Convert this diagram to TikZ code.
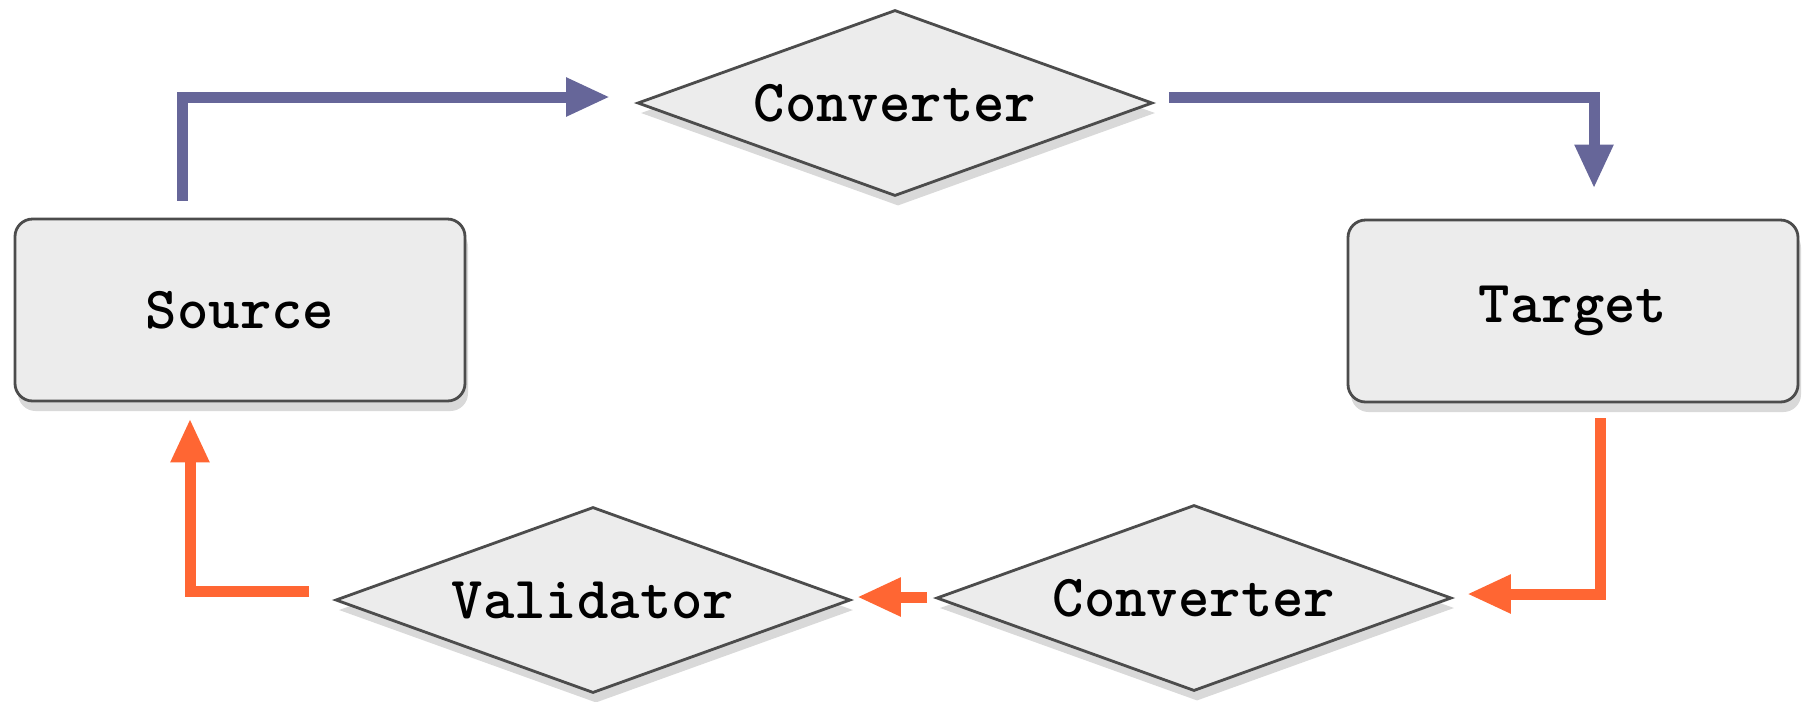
\documentclass[tikz,border=0pt]{standalone}
\usepackage{fontspec}
\usetikzlibrary{shapes.geometric,arrows.meta,shadows}
\definecolor{flowBlue}{RGB}{102,102,153}
\definecolor{flowOrange}{RGB}{255,102,51}
\begin{document}
\begin{tikzpicture}
[boxNode/.style={shape=rectangle,rounded corners=5pt,minimum width=4.5cm,minimum height=1.82cm,
    draw=black!70,fill=gray!15,thick,drop shadow={opacity=0.3,shadow xshift=0.3mm,shadow yshift=-1mm}},%
  diamondNode/.style={shape=diamond,aspect=2.75,inner sep=0pt,minimum width=5.15cm,minimum height=1.86cm,
    draw=black!70,fill=gray!15,thick,drop shadow={opacity=0.3,shadow xshift=0.3mm,shadow yshift=-1mm}},%
  blueLine/.style={line width=0.11cm,color=flowBlue,-{Triangle[length=0.44cm,width=0.36cm]}},%
  orangeLine/.style={line width=0.11cm,color=flowOrange,-{Triangle[length=0.44cm,width=0.36cm]}},%
  every node/.style={font=\fontsize{17}{20}\selectfont\ttfamily\bfseries}]
\useasboundingbox (0,0) rectangle (18.07,-7.01);
%% boxes
\foreach \nodename/\x/\y/\txt in {src/2.40/-3.10/Source, tgt/15.73/-3.11/Target}
{
  \node (\nodename) at (\x,\y) [boxNode] {\txt};
}
%% diamonds
\foreach \nodename/\x/\y/\txt in {conv1/8.95/-1.03/Converter, valid/5.93/-6.00/Validator, conv2/11.94/-5.98/Converter}
{
  \node (\nodename) at (\x,\y) [diamondNode] {\txt};
}
%% blue lines
\draw[blueLine] ([xshift=-0.58cm,yshift=0.17cm]src.north) |- ([xshift=-0.26cm,yshift=0.06cm]conv1.west);
\draw[blueLine] ([xshift=0.15cm,yshift=0.06cm]conv1.east) -| ([xshift=0.21cm,yshift=0.30cm]tgt.north);
%% orange lines
\draw[orangeLine] ([xshift=0.27cm,yshift=-0.15cm]tgt.south) |- ([xshift=0.14cm,yshift=0.04cm]conv2.east);
\draw[orangeLine] ([xshift=-0.08cm,yshift=0.01cm]conv2.west) -- ([xshift=0.05cm,yshift=0.03cm]valid.east);
\draw[orangeLine] ([xshift=-0.25cm,yshift=0.09cm]valid.west) -| ([xshift=-0.50cm,yshift=-0.16cm]src.south);
\end{tikzpicture}
\end{document}
